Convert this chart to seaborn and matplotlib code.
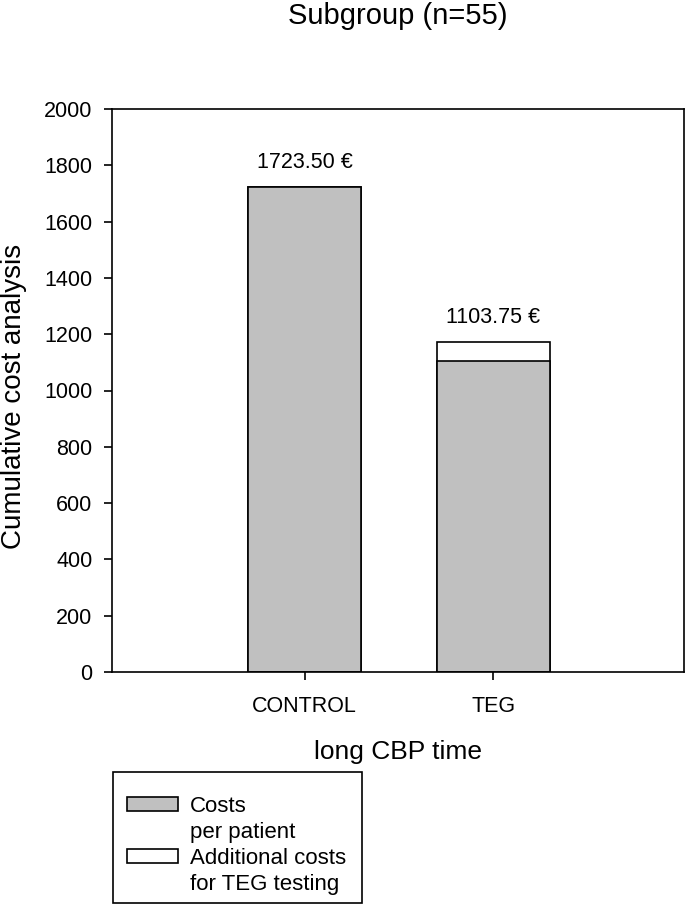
import matplotlib
matplotlib.use("Agg")
import matplotlib.pyplot as plt
from matplotlib.patches import Patch, Rectangle
import seaborn as sns
import pandas as pd

categories = ["CONTROL", "TEG"]
costs_per_patient = [1723.50, 1103.75]
additional_teg_costs = [0.0, 67.0]
value_labels = ["1723.50 €", "1103.75 €"]
yticks = [0, 200, 400, 600, 800, 1000, 1200, 1400, 1600, 1800, 2000]

sns.set_style("white")
plt.rcParams['font.family'] = ['Liberation Sans', 'DejaVu Sans']
for k in ["text.color", "axes.labelcolor", "xtick.color", "ytick.color"]:
    plt.rcParams[k] = "black"

totals = [a + b for a, b in zip(costs_per_patient, additional_teg_costs)]
df = pd.DataFrame({"group": categories, "base": costs_per_patient, "total": totals})

fig = plt.figure(figsize=(6.85, 9.09), dpi=100)
ax = fig.add_axes([112/685, 1-672/909, (684-112)/685, (672-109)/909])

sns.barplot(data=df, x="group", y="total", color="white", saturation=1,
            edgecolor="black", linewidth=1.2, width=0.6, ax=ax)
sns.barplot(data=df, x="group", y="base", color="#c0c0c0", saturation=1,
            edgecolor="black", linewidth=1.2, width=0.6, ax=ax)

for i, (t, lab) in enumerate(zip(totals, value_labels)):
    ax.text(i, t + 50, lab, ha="center", va="bottom", fontsize=15.5)

ax.set_xlim(-1.02, 2.01)
ax.set_ylim(0, 2000)
ax.set_yticks(yticks)
ax.tick_params(axis="both", which="both", direction="out", length=6, width=1.2,
               labelsize=15.5, left=True, bottom=True)
ax.tick_params(axis="y", pad=8)
ax.tick_params(axis="x", pad=11)
for s in ax.spines.values():
    s.set_color("black")
    s.set_linewidth(1.2)

ax.set_xlabel("long CBP time", fontsize=19)
ax.xaxis.set_label_coords(0.5, -(740-672)/563)
ax.set_ylabel("Cumulative cost analysis", fontsize=20)
ax.yaxis.set_label_coords((27-112)/572, 0.49)
fig.text(398/685, 1-23.5/909, "Subgroup (n=55)", ha="center", va="baseline", fontsize=21)

blank = Patch(facecolor="none", edgecolor="none")
handles = [Patch(facecolor="#c0c0c0", edgecolor="black", linewidth=1.2),
           blank,
           Patch(facecolor="white", edgecolor="black", linewidth=1.2),
           blank]
labels = ["Costs", "per patient", "Additional costs", "for TEG testing"]
leg = fig.legend(handles, labels, loc="upper left",
                 bbox_to_anchor=(127/685, 1-796/909), fontsize=16,
                 frameon=False, handlelength=2.3, handleheight=0.55,
                 borderpad=0, borderaxespad=0, labelspacing=0.22,
                 handletextpad=0.55)
fig.patches.append(Rectangle((113/685, 1-903/909), (362-113)/685, (903-772)/909,
                             transform=fig.transFigure, facecolor="none",
                             edgecolor="black", linewidth=1.2))

fig.savefig("out.png", dpi=100)
